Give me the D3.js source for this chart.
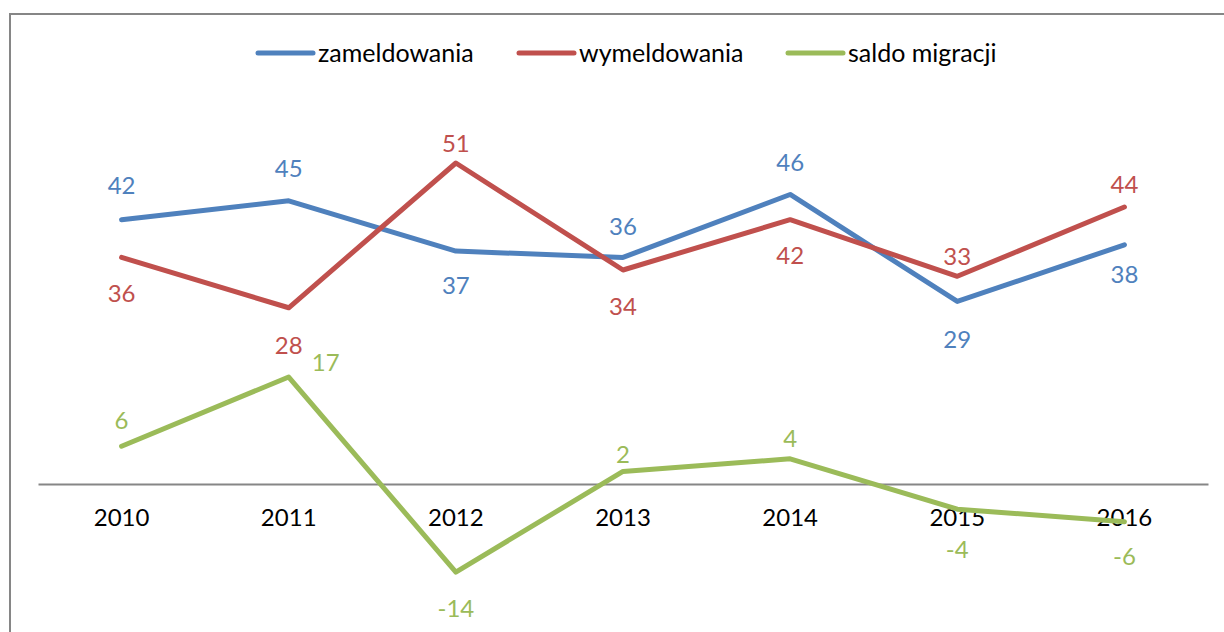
<!DOCTYPE html>
<html>
<head>
<meta charset="utf-8">
<script src="https://cdn.jsdelivr.net/npm/d3@7"></script>
<style>
  body { margin: 0; background: #fff; }
  svg text { font-family: Lato, "Open Sans", sans-serif; }
</style>
</head>
<body>
<svg id="canvas" width="1224" height="632"></svg>
<script>
// Data
var years = ["2010", "2011", "2012", "2013", "2014", "2015", "2016"];
var zameldowania = [42, 45, 37, 36, 46, 29, 38];
var wymeldowania = [36, 28, 51, 34, 42, 33, 44];
var saldo = [6, 17, -14, 2, 4, -4, -6];
var seriesNames = ["zameldowania", "wymeldowania", "saldo migracji"];

// label placement relative to its point, [dx, dy] in px
var labelOffset = [
    [[0, -34], [0, -32], [0, 34], [0, -31], [0, -32], [0, 38], [0, 30]],
    [[0, 36], [0, 38], [0, -19], [0, 37], [0, 36], [0, -20], [0, -22]],
    [[0, -26], [37, -14], [0, 36], [0, -17], [0, -20], [0, 40], [0, 35]]
];

var colors = ["#4F81BD", "#C0504D", "#9BBB59"];
var series = [zameldowania, wymeldowania, saldo];

var svg = d3.select("#canvas");

// Frame (right and bottom edges fall outside the picture)
svg.append("path")
    .attr("d", "M10,640 L10,14 L1230,14")
    .attr("fill", "none")
    .attr("stroke", "#868686")
    .attr("stroke-width", 2);

// Scales
var x = d3.scaleBand()
    .domain(years)
    .range([38, 1208]);
var y = d3.scaleLinear()
    .domain([-20, 60])
    .range([484 + 20 * 6.294, 484 - 60 * 6.294]);

// Category axis on the zero line
var xAxis = svg.append("g")
    .attr("transform", "translate(0," + y(0) + ")")
    .call(d3.axisBottom(x).tickSize(0).tickPadding(25));
xAxis.select(".domain")
    .attr("stroke", "#868686")
    .attr("stroke-width", 2);
xAxis.selectAll("text")
    .attr("font-size", 24)
    .attr("fill", "#000");

var line = d3.line()
    .x(function(d, i){ return x(years[i]) + x.bandwidth() / 2; })
    .y(function(d){ return y(d); });

series.forEach(function(s, k){
    svg.append("path")
        .datum(s)
        .attr("d", line)
        .attr("fill", "none")
        .attr("stroke", colors[k])
        .attr("stroke-width", 5)
        .attr("stroke-linejoin", "round")
        .attr("stroke-linecap", "round");

    svg.append("g").selectAll("text")
        .data(s)
        .enter().append("text")
        .attr("x", function(d, i){
            return x(years[i]) + x.bandwidth() / 2 + labelOffset[k][i][0];
        })
        .attr("y", function(d, i){ return y(d) + labelOffset[k][i][1]; })
        .attr("dy", "0.35em")
        .attr("text-anchor", "middle")
        .attr("font-size", 24)
        .attr("fill", colors[k])
        .text(function(d){ return d; });
});

// Legend
var legendX = [258, 519, 788];
var legend = svg.append("g");
seriesNames.forEach(function(name, k){
    legend.append("line")
        .attr("x1", legendX[k]).attr("x2", legendX[k] + 55)
        .attr("y1", 53).attr("y2", 53)
        .attr("stroke", colors[k])
        .attr("stroke-width", 5)
        .attr("stroke-linecap", "round");
    legend.append("text")
        .attr("x", legendX[k] + 60)
        .attr("y", 53)
        .attr("dy", "0.35em")
        .attr("font-size", 25)
        .attr("fill", "#000")
        .text(name);
});
</script>
</body>
</html>
